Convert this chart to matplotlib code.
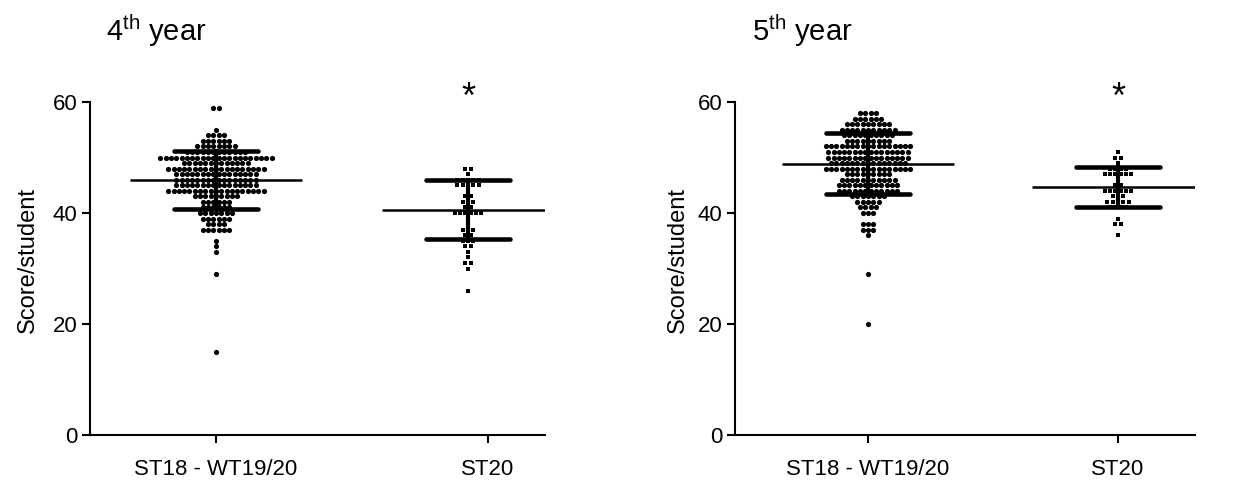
import numpy as np
import matplotlib.pyplot as plt

plt.rcParams['font.family'] = ['Liberation Sans', 'DejaVu Sans']
plt.rcParams['mathtext.fontset'] = 'custom'
plt.rcParams['mathtext.rm'] = 'Liberation Sans'

groups = ['ST18 - WT19/20', 'ST20']

# 4th year - score per student and number of students with that score
values4_a = [59, 55, 54, 53, 52, 51, 50, 49, 48, 47, 46, 45, 44, 43, 42, 41, 40, 39, 38, 37, 35, 34, 33, 29, 15]
counts4_a = [2, 1, 4, 6, 8, 12, 22, 13, 19, 16, 16, 16, 19, 9, 6, 6, 7, 6, 4, 6, 1, 1, 1, 1, 1]
values4_b = [48, 47, 46, 45, 44, 43, 42, 41, 40, 37, 36, 35, 34, 33, 32, 31, 30, 26]
counts4_b = [2, 1, 5, 5, 1, 2, 3, 2, 6, 3, 2, 3, 2, 1, 1, 2, 1, 1]
means4 = [46.0, 40.6]
sds4 = [5.25, 5.3]

# 5th year
values5_a = [58, 57, 56, 55, 54, 53, 52, 51, 50, 49, 48, 47, 46, 45, 44, 43, 42, 41, 40, 38, 37, 36, 29, 20]
counts5_a = [4, 6, 9, 11, 10, 9, 17, 16, 16, 15, 17, 9, 11, 12, 12, 7, 5, 4, 3, 3, 3, 1, 1, 1]
values5_b = [51, 50, 49, 48, 47, 46, 45, 44, 43, 42, 41, 39, 38, 36]
counts5_b = [1, 2, 1, 4, 6, 1, 2, 6, 3, 5, 4, 1, 2, 1]
means5 = [48.9, 44.6]
sds5 = [5.45, 3.6]

W, H = 1236, 488
fig = plt.figure(figsize=(W / 100, H / 100), dpi=100)


def panel(box, xlim, va, ca, vb, cb, means, sds, title, title_x, ylab_x, tick2_shift=0):
    x0, x1, y0, y1 = box  # pixel box, y measured from top
    ax = fig.add_axes([x0 / W, 1 - y1 / H, (x1 - x0) / W, (y1 - y0) / H])
    ax.set_xlim(xlim)
    ax.set_ylim(0, 60)
    ppu = (x1 - x0) / (xlim[1] - xlim[0])  # pixels per x unit
    dx = 5.3 / ppu

    # column scatter
    for xc, vals, cnts, mk, sz in [(1, va, ca, 'o', 14), (2, vb, cb, 's', 12)]:
        xs, ys = [], []
        for v, n in zip(vals, cnts):
            offs = (np.arange(n) - (n - 1) / 2) * dx
            xs.extend(xc + offs)
            ys.extend([v] * n)
        ax.scatter(xs, ys, s=sz, marker=mk, color='black', linewidths=0, zorder=2)

    # mean and SD
    for xc, m, sd in zip([1, 2], means, sds):
        ax.plot([xc - 86 / ppu, xc + 86 / ppu], [m, m], color='black', lw=1.8,
                solid_capstyle='butt', zorder=3)
        ax.plot([xc, xc], [m - sd, m + sd], color='black', lw=3, zorder=3)
        for y in [m - sd, m + sd]:
            ax.plot([xc - 42 / ppu, xc + 42 / ppu], [y, y], color='black', lw=3.3,
                    solid_capstyle='round', zorder=3)

    ax.text(2, 60.7, '*', ha='center', va='center', fontsize=26, clip_on=False)

    for s in ['top', 'right']:
        ax.spines[s].set_visible(False)
    for s in ['left', 'bottom']:
        ax.spines[s].set_linewidth(1.5)
    ax.set_xticks([1, 2 + tick2_shift / ppu])
    ax.set_xticklabels(groups)
    ax.set_yticks([0, 20, 40, 60])
    ax.tick_params(length=6, width=1.5, labelsize=16)
    ax.tick_params(axis='x', pad=11)
    ax.tick_params(axis='y', pad=3)
    ax.set_ylabel('Score/student', fontsize=17)
    ax.yaxis.set_label_coords(ylab_x, 0.525)

    fig.text(title_x / W, 1 - 41 / H, title, fontsize=21, va='baseline', ha='left')
    return ax


panel((90, 545, 102, 435), (0.5, 2.306), values4_a, counts4_a, values4_b, counts4_b,
      means4, sds4, '4$^{\\rm th}$ year', 106, -0.113, tick2_shift=20)
panel((735, 1195, 102, 435), (0.468, 2.308), values5_a, counts5_a, values5_b, counts5_b,
      means5, sds5, '5$^{\\rm th}$ year', 752, -0.101)

fig.savefig('out.png', dpi=100)
